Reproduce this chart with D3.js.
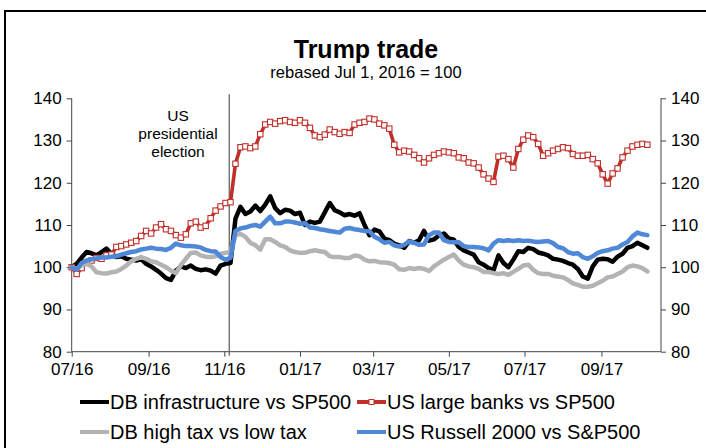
<!DOCTYPE html>
<html><head><meta charset="utf-8">
<script src="https://cdn.jsdelivr.net/npm/d3@7"></script>
<style>body{margin:0;background:#fff}svg{display:block;font-family:"Liberation Sans",Arial,sans-serif}</style>
</head><body><svg id="c" width="706" height="448"></svg>
<script>
const dates = ["2016-07-01","2016-07-05","2016-07-09","2016-07-13","2016-07-17","2016-07-21","2016-07-25","2016-07-29",
"2016-08-02","2016-08-06","2016-08-10","2016-08-14","2016-08-18","2016-08-22","2016-08-26","2016-08-30",
"2016-09-03","2016-09-07","2016-09-11","2016-09-15","2016-09-19","2016-09-23","2016-09-27",
"2016-10-01","2016-10-05","2016-10-09","2016-10-13","2016-10-17","2016-10-21","2016-10-25","2016-10-29",
"2016-11-02","2016-11-06","2016-11-10","2016-11-14","2016-11-18","2016-11-22","2016-11-26","2016-11-30",
"2016-12-04","2016-12-08","2016-12-12","2016-12-16","2016-12-20","2016-12-24","2016-12-28",
"2017-01-01","2017-01-05","2017-01-09","2017-01-13","2017-01-17","2017-01-21","2017-01-25","2017-01-29",
"2017-02-02","2017-02-06","2017-02-10","2017-02-14","2017-02-18","2017-02-22","2017-02-26",
"2017-03-02","2017-03-06","2017-03-10","2017-03-14","2017-03-18","2017-03-22","2017-03-26","2017-03-30",
"2017-04-03","2017-04-07","2017-04-11","2017-04-15","2017-04-19","2017-04-23","2017-04-27",
"2017-05-01","2017-05-05","2017-05-09","2017-05-13","2017-05-17","2017-05-21","2017-05-25","2017-05-29",
"2017-06-02","2017-06-06","2017-06-10","2017-06-14","2017-06-18","2017-06-22","2017-06-26","2017-06-30",
"2017-07-04","2017-07-08","2017-07-12","2017-07-16","2017-07-20","2017-07-24","2017-07-28",
"2017-08-01","2017-08-05","2017-08-09","2017-08-13","2017-08-17","2017-08-21","2017-08-25","2017-08-29",
"2017-09-02","2017-09-06","2017-09-10","2017-09-14","2017-09-18","2017-09-22","2017-09-26","2017-09-30",
"2017-10-04","2017-10-08"];

const dbInfra = [100,100.8,102.3,103.6,103.3,102.8,103.6,104.4,103.2,102.4,
102.6,102.0,101.8,101.6,101.9,100.8,100.2,99.4,98.5,97.4,
97.0,99.2,100.2,99.8,100.4,99.6,99.3,99.5,99.2,98.5,
100.4,100.8,101.0,111.5,114.3,112.6,113.2,114.6,113.3,114.8,
116.8,114.0,112.8,113.6,113.4,112.6,112.9,110.0,110.8,110.5,
110.8,113.0,115.2,113.5,113.0,112.3,112.6,112.2,112.8,110.0,
107.6,108.9,108.5,106.8,106.4,105.6,105.2,104.6,106.2,105.8,
106.4,108.6,106.3,106.6,107.5,108.0,106.8,106.5,104.8,104.0,
103.5,103.0,101.2,100.6,99.8,99.3,102.8,101.0,100.0,101.8,
103.8,103.6,104.6,104.3,103.5,103.2,102.8,102.0,101.8,101.5,
101.0,100.6,99.6,97.8,97.3,100.2,101.8,102.0,101.9,101.3,
102.5,103.2,104.6,105.0,105.8,105.2,104.6];

const usBanks = [100.0,98.4,99.8,101.2,101.6,102.2,102.0,102.8,103.0,104.8,
105.0,105.4,105.8,106.2,107.4,108.6,108.0,109.4,110.2,109.0,
108.6,107.6,107.0,107.8,110.4,110.8,109.4,109.8,111.6,113.4,
114.4,115.2,115.4,124.5,128.4,128.6,128.2,128.6,131.5,133.8,
134.4,134.0,134.6,134.8,134.4,134.2,134.8,134.2,133.0,131.2,
130.8,131.4,132.6,132.0,131.6,132.0,131.8,133.8,134.2,134.4,
135.2,135.0,134.0,133.6,132.8,129.0,127.2,127.6,127.4,126.6,
125.8,124.8,125.8,126.6,127.0,127.4,127.2,127.0,126.0,125.8,
124.8,124.6,123.6,122.0,121.0,120.2,126.2,126.4,125.6,123.6,
128.0,130.2,131.2,130.8,129.2,126.4,127.0,127.6,128.0,128.4,
128.2,126.8,126.4,126.4,126.6,125.6,124.6,122.0,119.8,122.2,
123.4,126.0,127.6,128.6,129.0,129.2,129.0];

const dbHighTax = [100.0,99.6,100.5,100.8,100.2,98.8,98.6,98.5,98.8,99.0,
99.6,100.4,101.4,102.0,102.4,102.0,101.4,101.2,100.6,100.0,
99.2,98.6,100.5,102.0,103.4,103.5,102.8,102.5,102.4,102.6,
103.2,103.4,103.6,107.6,107.9,107.2,105.8,105.2,104.2,106.6,
106.6,106.0,105.2,104.8,104.0,103.6,103.4,103.4,103.8,104.0,
103.8,103.6,102.6,102.4,102.4,102.2,102.2,102.8,102.6,101.8,
101.4,101.5,101.2,101.1,101.0,100.6,99.5,99.4,99.8,99.6,
99.8,99.6,99.1,100.2,101.0,101.8,102.4,103.0,101.6,100.6,
100.2,100.0,99.6,98.9,98.9,98.6,98.4,98.6,98.2,98.9,
99.6,100.4,100.6,99.4,98.6,98.4,98.4,98.0,97.8,97.6,
97.0,96.2,95.8,95.4,95.4,95.6,96.2,96.8,97.6,97.8,
98.4,99.0,100.0,100.4,100.2,99.8,99.0];

const russell = [100.0,99.4,101.0,101.6,101.9,102.1,102.3,102.3,102.5,102.6,
103.0,103.3,103.6,103.8,104.2,104.4,104.6,104.4,104.3,104.1,
104.6,105.6,105.2,105.0,105.0,104.9,104.7,104.1,103.8,103.7,
102.4,101.8,102.2,108.6,109.2,109.4,109.8,110.0,109.6,110.8,
112.0,110.4,110.4,110.8,110.8,110.6,110.3,110.4,109.4,109.3,
109.0,108.8,108.6,108.4,108.2,109.1,109.3,109.0,108.8,108.6,
108.5,107.2,106.6,105.8,106.0,105.2,104.9,105.3,106.1,105.8,
105.3,105.4,107.6,108.2,108.2,106.4,106.0,105.9,105.9,105.0,
104.8,104.8,104.7,104.5,104.0,105.6,106.4,106.2,106.4,106.2,
106.4,106.2,106.3,106.1,106.0,106.1,106.2,105.7,104.8,104.5,
103.6,103.2,103.3,102.4,102.0,102.6,103.4,103.8,104.0,104.4,
104.6,105.4,106.0,107.3,108.2,107.8,107.6];

const seriesNames = ["DB infrastructure vs SP500","US large banks vs SP500","DB high tax vs low tax","US Russell 2000 vs S&P500"];
const seriesColors = ["#000000","#c0302b","#b3b3b3","#4f88d6"];
const yTicks = [80,90,100,110,120,130,140];
const xTicks = ["2016-07-01","2016-09-01","2016-11-01","2017-01-01","2017-03-01","2017-05-01","2017-07-01","2017-09-01"];
const xDomain = ["2016-07-01","2017-10-19"];
const electionDate = "2016-11-05";
const titleText = "Trump trade";
const subtitleText = "rebased Jul 1, 2016 = 100";
const annotationLines = ["US","presidential","election"];

const parse = d3.timeParse("%Y-%m-%d");
const svg = d3.select("#c");
const L = 71.7, R = 661, T = 98.3, B = 351.7;
const x = d3.scaleTime().domain(xDomain.map(parse)).range([L, R]);
const y = d3.scaleLinear().domain([80, 140]).range([B, T]);

svg.append("rect").attr("x",5).attr("y",11).attr("width",740).attr("height",470)
  .attr("fill","none").attr("stroke","#000").attr("stroke-width",2);

svg.append("text").attr("x",366).attr("y",58).attr("text-anchor","middle")
  .attr("font-weight","bold").attr("font-size",25).text(titleText);
svg.append("text").attr("x",366).attr("y",78).attr("text-anchor","middle")
  .attr("font-size",16.5).text(subtitleText);

const axisColor = "#444";
const gL = svg.append("g").attr("transform",`translate(${L},0)`)
  .call(d3.axisLeft(y).tickValues(yTicks).tickSize(5).tickPadding(5).tickFormat(d3.format("d")));
const gR = svg.append("g").attr("transform",`translate(${R},0)`)
  .call(d3.axisRight(y).tickValues(yTicks).tickSize(5).tickPadding(5).tickFormat(d3.format("d")));
const gB = svg.append("g").attr("transform",`translate(0,${B})`)
  .call(d3.axisBottom(x).tickValues(xTicks.map(parse)).tickSize(5).tickPadding(6).tickFormat(d3.timeFormat("%m/%y")));
[gL,gR,gB].forEach(g=>{
  g.select("path.domain").remove();
  g.selectAll(".tick line").attr("stroke",axisColor);
  g.selectAll("text").attr("font-size",17).attr("fill","#000").attr("font-family","Liberation Sans, Arial, sans-serif");
});
svg.append("line").attr("x1",L).attr("x2",L).attr("y1",T).attr("y2",B).attr("stroke",axisColor);
svg.append("line").attr("x1",R).attr("x2",R).attr("y1",T).attr("y2",B).attr("stroke",axisColor);
svg.append("line").attr("x1",L).attr("x2",R).attr("y1",B).attr("y2",B).attr("stroke",axisColor);

const ex = x(parse(electionDate));
svg.append("line").attr("x1",ex).attr("x2",ex).attr("y1",T-4).attr("y2",B+4)
  .attr("stroke","#666").attr("stroke-width",1.3);
const ann = svg.append("text").attr("text-anchor","middle").attr("font-size",15.5);
annotationLines.forEach((t,i)=>ann.append("tspan").attr("x",178).attr("y",121+i*18).text(t));

const dts = dates.map(parse);
const allSeries = [dbInfra, usBanks, dbHighTax, russell];
const line = d3.line().x((d,i)=>x(dts[i])).y(d=>y(d));
const plot = svg.append("g");
allSeries.forEach((vals,k)=>{
  plot.append("path").datum(vals).attr("d",line).attr("fill","none")
    .attr("stroke",seriesColors[k]).attr("stroke-width",k===1?3.6:4.5)
    .attr("stroke-linejoin","round").attr("stroke-linecap","round");
  if(k===1){
    plot.selectAll(null).data(vals).join("rect")
      .attr("x",(d,i)=>x(dts[i])-2.7).attr("y",d=>y(d)-2.7)
      .attr("width",5.4).attr("height",5.4)
      .attr("fill","#fff").attr("stroke",seriesColors[1]).attr("stroke-width",1.1);
  }
});

const legPos = [[80,402],[357,402],[80,432],[357,432]];
seriesNames.forEach((n,k)=>{
  const [lx,ly] = legPos[k];
  const g = svg.append("g");
  g.append("line").attr("x1",lx).attr("x2",lx+29).attr("y1",ly).attr("y2",ly)
    .attr("stroke",seriesColors[k]).attr("stroke-width",4);
  if(k===1) g.append("rect").attr("x",lx+14.5-2.5).attr("y",ly-2.5).attr("width",5).attr("height",5)
    .attr("fill","#fff").attr("stroke",seriesColors[1]).attr("stroke-width",1);
  g.append("text").attr("x",lx+30).attr("y",ly+7).attr("font-size",20).text(n);
});
</script></body></html>
